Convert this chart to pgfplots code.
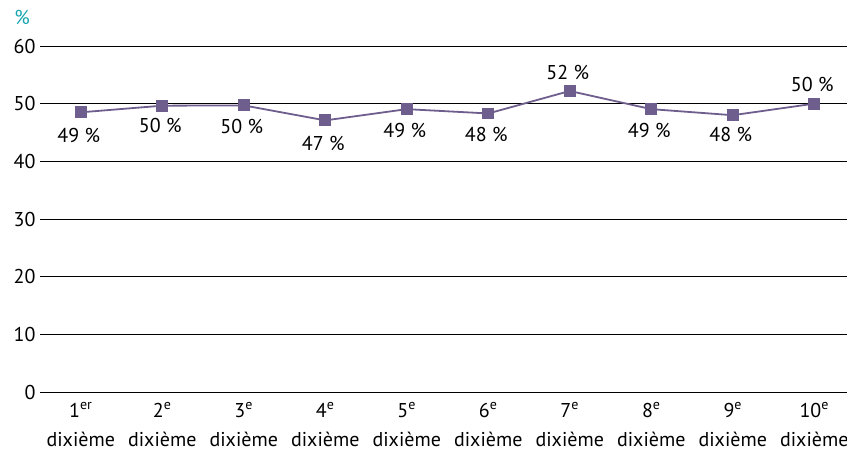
\documentclass[border=0pt]{standalone}
\usepackage{pgfplots}
\usepackage{pgfplotstable}
\pgfplotsset{compat=1.18}
\usepackage{fontspec}
\setmainfont{PT Sans}
\definecolor{linepurple}{RGB}{110,94,142}
\definecolor{pctteal}{RGB}{20,165,175}

% x, share, label, label offset
\pgfplotstableread{
x  y     lab off
0  48.5  49  -23
1  49.65 50  -20
2  49.7  50  -21
3  47.1  47  -23
4  49.05 49  -21
5  48.3  48  -21
6  52.2  52  18
7  49.05 49  -21
8  48.0  48  -19
9  50.0  50  19
}\dixiemes

\begin{document}
\begin{tikzpicture}[font=\fontsize{20}{24}\selectfont]
\begin{axis}[
    at={(40pt,64pt)}, anchor=south west,
    scale only axis,
    width=815pt, height=346pt,
    xmin=-0.5, xmax=9.5,
    ymin=0, ymax=60,
    ytick={0,10,...,60},
    xtick={0,...,9},
    xticklabels={
      {1\textsuperscript{er}\\dixième},
      {2\textsuperscript{e}\\dixième},
      {3\textsuperscript{e}\\dixième},
      {4\textsuperscript{e}\\dixième},
      {5\textsuperscript{e}\\dixième},
      {6\textsuperscript{e}\\dixième},
      {7\textsuperscript{e}\\dixième},
      {8\textsuperscript{e}\\dixième},
      {9\textsuperscript{e}\\dixième},
      {10\textsuperscript{e}\\dixième}},
    xticklabel style={align=center, font=\fontsize{20}{29}\selectfont,
        yshift=-7pt},
    /pgf/number format/assume math mode=true,
    axis line style={draw=none},
    major tick style={draw=none},
    ymajorgrids,
    grid style={black, line width=0.8pt},
    yticklabel style={xshift=-1pt},
    clip=false,
]
\addplot[color=linepurple, line width=1.8pt, mark=square*,
    mark size=5pt, mark options={solid, fill=linepurple},
    point meta=\thisrow{lab},
    visualization depends on={\thisrow{off} \as \off},
    nodes near coords={\pgfmathprintnumber{\pgfplotspointmeta}~\%},
    every node near coord/.append style={anchor=center, yshift=\off*1pt,
        xshift=-2pt, color=black, font=\fontsize{20}{24}\selectfont}
] table[x=x, y=y] {\dixiemes};
\end{axis}
\node[pctteal, anchor=center] at (22pt,439pt) {\%};
\pgfresetboundingbox
\useasboundingbox (0,0) rectangle (847pt,456pt);
\end{tikzpicture}
\end{document}
